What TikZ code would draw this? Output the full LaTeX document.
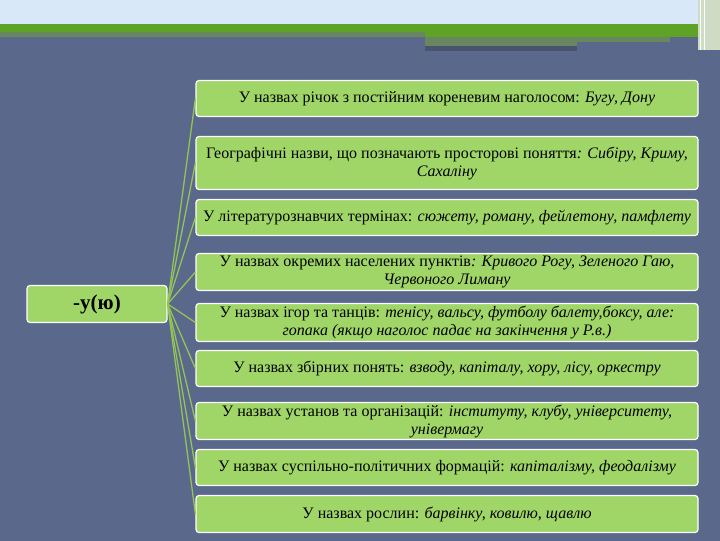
\documentclass[tikz,border=0pt]{standalone}
\usepackage{fontspec}
\setmainfont{Liberation Serif}
\newfontfamily\slidefont{Liberation Serif}
\definecolor{slate}{RGB}{90,104,139}
\definecolor{sky}{RGB}{216,232,248}
\definecolor{band}{RGB}{94,162,38}
\definecolor{bandgrey}{RGB}{104,134,96}
\definecolor{leaf}{RGB}{160,214,104}
\definecolor{stem}{RGB}{146,196,86}
\definecolor{pale}{RGB}{206,220,198}
\begin{document}
\begin{tikzpicture}[x=1pt,y=-1pt]
        \tikzstyle{item}=[draw=white, line width=1.2pt, fill=leaf,
            rounded corners=3pt, minimum width=502pt, align=center,
            inner xsep=2pt, inner ysep=0pt,
            font=\slidefont\fontsize{16}{18}\selectfont]
        \tikzstyle{root}=[item, minimum width=140pt, minimum height=37pt,
            font=\slidefont\fontsize{21}{24}\selectfont\bfseries]
        \tikzstyle{spoke}=[draw=stem, line width=1.3pt]

        \fill[slate] (0,0) rectangle (720,540);
        \fill[sky] (0,0) rectangle (720,24);
        \fill[band] (0,24) rectangle (720,32);
        \fill[bandgrey] (0,32) rectangle (425,37);
        \fill[band] (425,32) rectangle (698,37);
        \fill[bandgrey] (425,37) rectangle (577,46);
        \fill[slate!80!black] (425,46) rectangle (577,51);
        \fill[bandgrey] (577,37) rectangle (670,42);
        \fill[pale] (698,0) rectangle (720,50);
        \draw[white, line width=1pt] (700,0) -- (700,50);
        \draw[white, line width=1pt] (704,0) -- (704,50);

        \node[root] (U) at (97,303.5) {-у(ю)};

        \node[item, minimum height=36pt] (r1) at (447,98)
            {У назвах річок з постійним кореневим наголосом: \textit{Бугу, Дону}};
        \node[item, minimum height=53pt] (r2) at (447,162.5)
            {Географічні назви, що позначають просторові поняття\textit{: Сибіру, Криму,}\\
             \textit{Сахаліну}};
        \node[item, minimum height=36pt] (r3) at (447,217)
            {У літературознавчих термінах: \textit{сюжету, роману, фейлетону, памфлету}};
        \node[item, minimum height=37pt] (r4) at (447,271.5)
            {У назвах окремих населених пунктів\textit{: Кривого Рогу, Зеленого Гаю,}\\
             \textit{Червоного Лиману}};
        \node[item, minimum height=38pt] (r5) at (447,322)
            {У назвах ігор та танців: \textit{тенісу, вальсу, футболу балету,боксу, але:}\\
             \textit{гопака (якщо наголос падає на закінчення у Р.в.)}};
        \node[item, minimum height=36pt] (r6) at (447,368)
            {У назвах збірних понять: \textit{взводу, капіталу, хору, лісу, оркестру}};
        \node[item, minimum height=37pt] (r7) at (447,420.5)
            {У назвах установ та організацій: \textit{інституту, клубу, університету,}\\
             \textit{універмагу}};
        \node[item, minimum height=36pt] (r8) at (447,467)
            {У назвах суспільно-політичних формацій: \textit{капіталізму, феодалізму}};
        \node[item, minimum height=37pt] (r9) at (447,513.5)
            {У назвах рослин: \textit{барвінку, ковилю, щавлю}};

        \foreach \r in {r1,r2,r3,r4,r5,r6,r7,r8,r9}
            \draw[spoke] (U.east) to (\r.west);

    \end{tikzpicture}
\end{document}
